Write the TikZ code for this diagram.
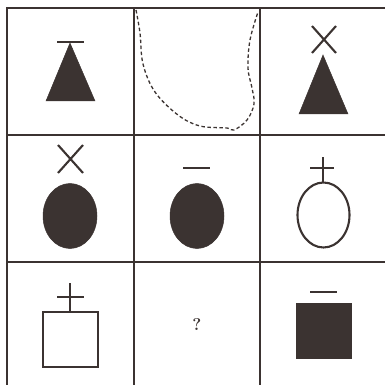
\documentclass[tikz,border=0pt]{standalone}
\begin{document}
\begin{tikzpicture}[x=1pt,y=-1pt,line join=miter]
\definecolor{ink}{HTML}{3B3331}
\tikzset{gridline/.style={draw=ink,line width=2.6pt},
  sym/.style={draw=ink,line width=2.1pt},
  solid fill/.style={fill=ink,draw=ink,line width=0.5pt}}
\useasboundingbox (0,0) rectangle (385,385);
% grid
\draw[gridline] (7,400) -- (7,8) -- (400,8);
\draw[gridline] (134,8) -- (134,400);
\draw[gridline] (260,8) -- (260,400);
\draw[gridline] (7,135) -- (400,135);
\draw[gridline] (7,262) -- (400,262);
% cell 1,1
\draw[sym] (57,42) -- (84,42);
\fill[solid fill] (70,43) -- (95,101) -- (46,101) -- cycle;
% cell 1,2 dashed curve
\draw[draw=ink,line width=1.3pt,dash pattern=on 3.5pt off 2.5pt] plot[smooth,tension=0.6] coordinates {(136,10) (140,33) (143,64) (155,92) (178,115) (200,126) (227,128) (234,130) (247,120) (254,104) (252,88) (248,68) (250,40) (258,12)};
% cell 1,3
\draw[sym] (312,26) -- (336,53) (336,26) -- (312,53);
\fill[solid fill] (323,55) -- (348,114) -- (299,114) -- cycle;
% row 2
\draw[sym] (58,145) -- (83,173) (83,145) -- (58,173);
\fill[solid fill] (70,216) ellipse[x radius=27,y radius=32.5];
\draw[sym] (183,168) -- (210,168);
\fill[solid fill] (197,216) ellipse[x radius=27,y radius=32.5];
\draw[sym] (310,168) -- (334,168) (323,157) -- (323,182);
\draw[sym] (323.5,215) ellipse[x radius=26,y radius=32.5];
% row 3
\draw[sym] (57,297) -- (84,297) (70,283) -- (70,312);
\draw[sym] (43,312) rectangle (98,367);
\draw[sym] (310,292) -- (337,292);
\fill[solid fill] (296,303) rectangle (351,358);
\node[text=ink,font=\fontsize{17}{17}\selectfont\bfseries,inner sep=0pt] (q) at (197,325) {?};
\end{tikzpicture}
\end{document}
